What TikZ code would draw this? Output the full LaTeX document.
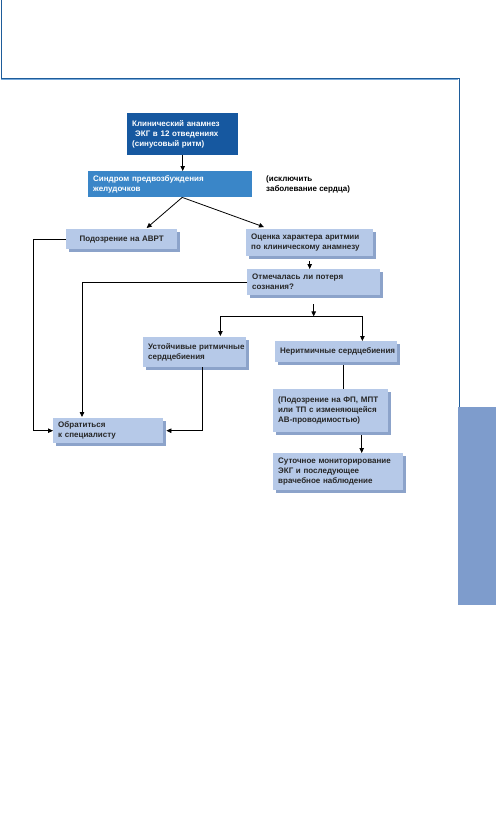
\documentclass[tikz,border=0pt]{standalone}
\usepackage{fontspec}
\setmainfont{Liberation Sans}
\usetikzlibrary{arrows.meta, shadows, calc}
\definecolor{frameBlue}{RGB}{30, 92, 154}
\definecolor{frameLight}{RGB}{120, 170, 220}
\definecolor{darkBox}  {RGB}{22, 88, 160}
\definecolor{midBox}   {RGB}{58, 134, 200}
\definecolor{lightBox} {RGB}{182, 201, 232}
\definecolor{boxShade} {RGB}{140, 163, 202}
\definecolor{tabBlue}  {RGB}{126, 156, 204}

\begin{document}
\begin{tikzpicture}[
  x=1pt, y=-1pt,
  base/.style = {
    rectangle, anchor=north west, align=left, inner xsep=5pt, inner ysep=2pt,
    font=\fontsize{8}{10}\selectfont\bfseries
  },
  dkbox/.style = {base, fill=darkBox, text=white},
  mdbox/.style = {base, fill=midBox, text=white},
  ltbox/.style = {base, fill=lightBox, text=black!85,
    general shadow={fill=boxShade, shadow xshift=3pt, shadow yshift=-3pt}},
  arr/.style = {-{Triangle[length=5pt, width=4.5pt]}, line width=0.8pt},
  ln/.style  = {line width=0.8pt}
]
  \useasboundingbox (0,0) rectangle (496,816);

  % page frame and side tab
  \draw[frameLight, line width=1pt] (1,79.5) -- (458,79.5);
  \draw[frameBlue, line width=1pt] (1,0) -- (1,78) -- (459,78) -- (459,407);
  \fill[tabBlue] (458,407) rectangle (496,605);

  % boxes
  \node[dkbox, text width=101pt, minimum height=42] (klin) at (127,113)
    {Клинический анамнез\\\hspace*{3pt}ЭКГ в 12 отведениях\\(синусовый ритм)};
  \node[mdbox, text width=154pt, minimum height=26] (sindr) at (88,171)
    {Синдром предвозбуждения\\желудочков};
  \node[base, inner sep=0pt] (note) at (266,176)
    {(исключить\\заболевание сердца)};
  \node[ltbox, align=center, text width=101pt, minimum height=20] (avrt) at (66,229)
    {Подозрение на АВРТ};
  \node[ltbox, text width=117pt, minimum height=27] (ocenka) at (246,229)
    {Оценка~характера~аритмии\\по~клиническому~анамнезу};
  \node[ltbox, text width=123pt, minimum height=26] (poterya) at (247,269)
    {Отмечалась ли потеря\\сознания?};
  \node[ltbox, text width=93pt, minimum height=30] (ustoych) at (143,337)
    {Устойчивые~ритмичные\\сердцебиения};
  \node[ltbox, text width=112pt, minimum height=21] (nerit) at (275,341)
    {Неритмичные~сердцебиения};
  \node[ltbox, text width=100pt, minimum height=25] (obrat) at (53,418)
    {Обратиться\\к специалисту};
  \node[ltbox, text width=105pt, minimum height=43] (podozr) at (273,389)
    {(Подозрение~на~ФП,~МПТ\\или~ТП~с~изменяющейся\\АВ-проводимостью)};
  \node[ltbox, text width=120pt, minimum height=37] (sutoch) at (273,453)
    {Суточное~мониторирование\\ЭКГ и последующее\\врачебное наблюдение};

  % connectors
  \draw[arr] (klin.south) -- (klin.south |- sindr.north);
  \coordinate (split) at ($(sindr.south)+(12,0)$);
  \draw[arr] (split) -- ($(avrt.north)+(25,-1)$);
  \draw[arr] (split) -- ($(ocenka.north west)+(18,-2)$);
  \draw[arr] (avrt.west) -- ++(-33,0) |- (obrat.west);
  \draw[arr] (poterya.west) -| ($(obrat.north west)+(29,-1)$);
  \draw[arr, shorten <=5pt] (ocenka.south) -- (ocenka.south |- poterya.north);

  \coordinate (fork)  at ($(poterya.south)+(0,21)$);
  \coordinate (forkL) at ($(fork -| ustoych.north east)+(-26,0)$);
  \coordinate (forkR) at ($(fork -| nerit.north east)+(-35,0)$);
  \draw[arr, shorten <=9pt] (poterya.south) -- (fork);
  \draw[ln] (forkL) -- (forkR);
  \draw[arr] (forkL) -- ($(forkL |- ustoych.north)+(0,-1)$);
  \draw[arr] (forkR) -- (forkR |- nerit.north);

  \draw[arr] ($(ustoych.south)+(8,0)$) |- ($(obrat.east)+(3,0)$);
  \coordinate (neritOut) at ($(nerit.south)+(7,3)$);
  \draw[ln] (neritOut) -- (neritOut |- podozr.north);
  \coordinate (podozrOut) at ($(podozr.south)+(31,3)$);
  \draw[arr] (podozrOut) -- (podozrOut |- sutoch.north);
\end{tikzpicture}
\end{document}
